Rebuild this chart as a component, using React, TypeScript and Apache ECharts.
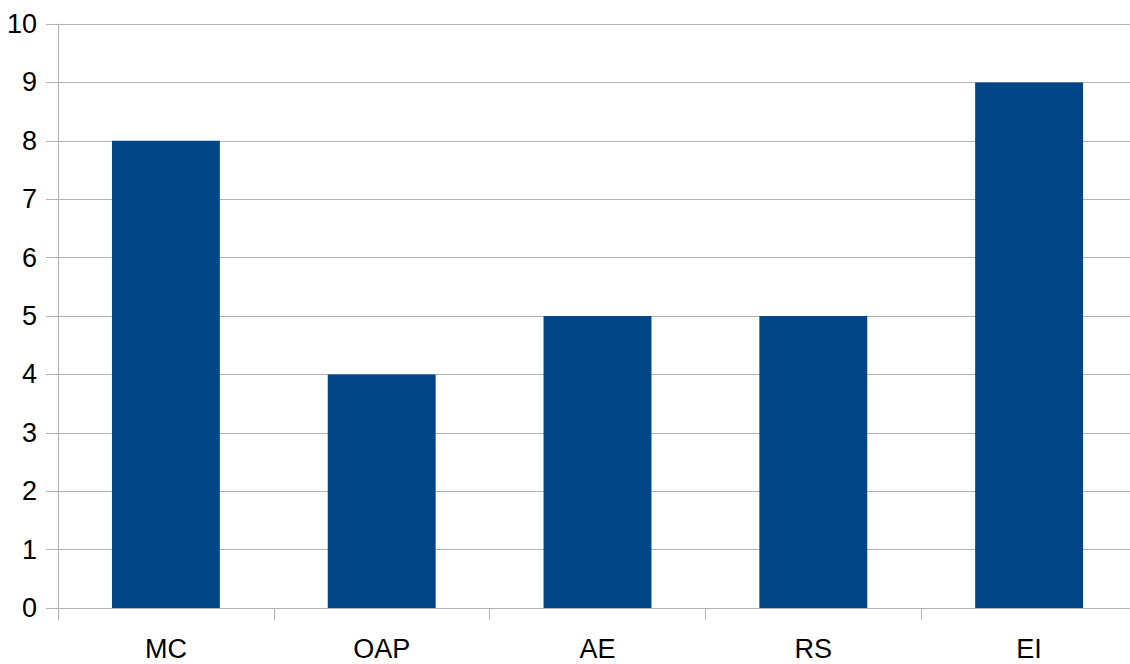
import React, { useEffect, useRef } from "react";
import * as echarts from "echarts";

const categories = ["MC", "OAP", "AE", "RS", "EI"];
const values = [8, 4, 5, 5, 9];
const yMin = 0;
const yMax = 10;
const yInterval = 1;

export default function App() {
  const ref = useRef<HTMLDivElement>(null);
  useEffect(() => {
    if (!ref.current) return;
    const chart = echarts.init(ref.current, undefined, { renderer: "svg" });
    const axisColor = "#b3b3b3";
    const font = "'Liberation Sans', Arial, sans-serif";
    chart.setOption({
      animation: false,
      backgroundColor: "#ffffff",
      grid: { left: 58, top: 24, width: 1079, height: 584, containLabel: false },
      xAxis: {
        type: "category",
        data: categories,
        boundaryGap: true,
        axisLine: { show: true, lineStyle: { color: axisColor, width: 1 } },
        axisTick: { show: true, length: 12, lineStyle: { color: axisColor }, alignWithLabel: false },
        axisLabel: { color: "#000", fontSize: 27, fontFamily: font, margin: 27 },
        splitLine: { show: false },
      },
      yAxis: {
        type: "value",
        min: yMin,
        max: yMax,
        interval: yInterval,
        axisLine: { show: true, lineStyle: { color: axisColor, width: 1 } },
        axisTick: { show: true, length: 12, lineStyle: { color: axisColor } },
        axisLabel: { color: "#000", fontSize: 27, fontFamily: font, margin: 21 },
        splitLine: { show: true, lineStyle: { color: axisColor, width: 1 } },
      },
      series: [
        {
          type: "bar",
          data: values,
          barWidth: "50%",
          itemStyle: { color: "#004586" },
        },
      ],
    });
    return () => chart.dispose();
  }, []);
  return (
    <div style={{ position: "fixed", left: 0, top: 0, width: 1130, height: 664, overflow: "hidden", background: "#fff" }}>
      <div ref={ref} style={{ width: 1145, height: 664 }} />
    </div>
  );
}
